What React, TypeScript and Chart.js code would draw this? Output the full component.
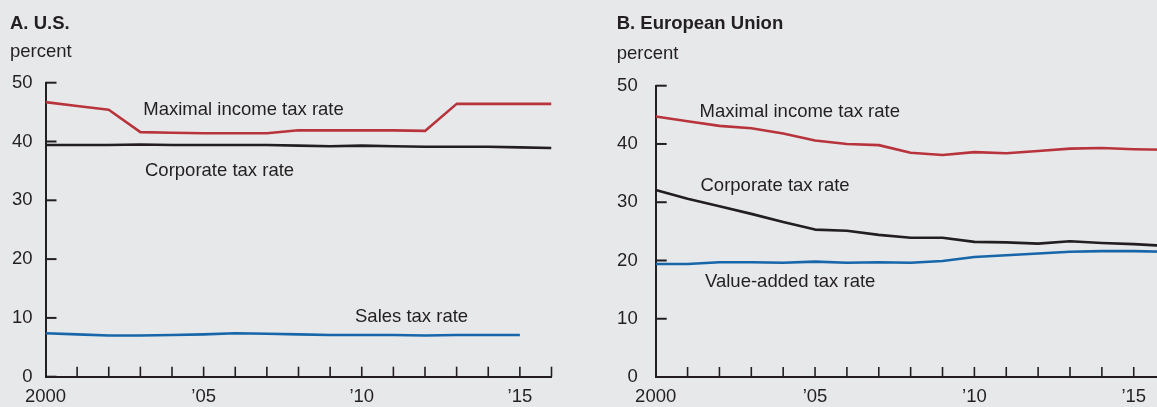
import React, { useEffect, useRef } from "react";
import { Chart, registerables } from "chart.js";

Chart.register(...registerables);

// ---- data ----
const years = [2000, 2001, 2002, 2003, 2004, 2005, 2006, 2007, 2008, 2009, 2010, 2011, 2012, 2013, 2014, 2015, 2016];

const usIncome = [46.7, 46.05, 45.4, 41.6, 41.5, 41.4, 41.4, 41.4, 41.9, 41.9, 41.9, 41.9, 41.8, 46.4, 46.4, 46.4, 46.4];
const usCorporate = [39.4, 39.4, 39.4, 39.5, 39.4, 39.4, 39.4, 39.4, 39.3, 39.2, 39.3, 39.2, 39.1, 39.1, 39.1, 39.0, 38.9];
const usSales = [7.4, 7.2, 7.0, 7.0, 7.1, 7.2, 7.4, 7.3, 7.2, 7.1, 7.1, 7.1, 7.0, 7.1, 7.1, 7.1, null];

const euIncome = [44.7, 43.9, 43.1, 42.7, 41.8, 40.6, 40.0, 39.8, 38.5, 38.1, 38.6, 38.4, 38.8, 39.2, 39.3, 39.1, 39.0];
const euCorporate = [32.1, 30.6, 29.3, 28.0, 26.6, 25.3, 25.1, 24.4, 23.9, 23.9, 23.2, 23.1, 22.9, 23.3, 23.0, 22.8, 22.5];
const euVat = [19.4, 19.4, 19.7, 19.7, 19.6, 19.8, 19.6, 19.7, 19.6, 19.9, 20.6, 20.9, 21.2, 21.5, 21.6, 21.6, 21.5];

const xLabelYears = [2000, 2005, 2010, 2015];
const yTickValues = [0, 10, 20, 30, 40, 50];

const RED = "#b8343c";
const BLACK = "#231f20";
const BLUE = "#1766a9";
const BG = "#e7e8ea";
const TEXT = "#231f20";
const FONT = "'Liberation Sans', Arial, Helvetica, sans-serif";
const FS = 18.5;

type Label = { text: string; x: number; y: number };
type Panel = {
  left: number;
  width: number;
  areaLeft: number;
  areaTop: number;
  areaBottom: number;
  areaRight: number;
  labelPad: number;
  title: string;
  titleX: number;
  titleY: number;
  unitY: number;
  labels: Label[];
  series: { data: (number | null)[]; color: string }[];
};

const panels: Panel[] = [
  {
    left: 0,
    width: 590,
    areaLeft: 45.5,
    areaTop: 82.7,
    areaBottom: 376.7,
    areaRight: 551.5,
    labelPad: 13,
    title: "A. U.S.",
    titleX: 10,
    titleY: 29.3,
    unitY: 57.3,
    labels: [
      { text: "Maximal income tax rate", x: 143.3, y: 115 },
      { text: "Corporate tax rate", x: 145, y: 176 },
      { text: "Sales tax rate", x: 355, y: 322 },
    ],
    series: [
      { data: usIncome, color: RED },
      { data: usCorporate, color: BLACK },
      { data: usSales, color: BLUE },
    ],
  },
  {
    left: 600,
    width: 600,
    areaLeft: 55.7,
    areaTop: 85.7,
    areaBottom: 377,
    areaRight: 565.6,
    labelPad: 18,
    title: "B. European Union",
    titleX: 16.7,
    titleY: 29.3,
    unitY: 59.3,
    labels: [
      { text: "Maximal income tax rate", x: 99.5, y: 116.7 },
      { text: "Corporate tax rate", x: 100.5, y: 190.7 },
      { text: "Value-added tax rate", x: 105, y: 287 },
    ],
    series: [
      { data: euIncome, color: RED },
      { data: euCorporate, color: BLACK },
      { data: euVat, color: BLUE },
    ],
  },
];

function PanelChart({ panel }: { panel: Panel }) {
  const ref = useRef<HTMLCanvasElement | null>(null);

  useEffect(() => {
    const canvas = ref.current;
    if (!canvas) return;

    const decor = {
      id: "decor",
      beforeDatasetsDraw(chart: any) {
        const { ctx, chartArea, scales } = chart;
        const xs = scales.x;
        const ys = scales.y;
        ctx.save();
        ctx.strokeStyle = BLACK;
        // y tick marks (inside)
        ctx.lineWidth = 2;
        for (const v of yTickValues) {
          const py = ys.getPixelForValue(v);
          ctx.beginPath();
          ctx.moveTo(chartArea.left, py);
          ctx.lineTo(chartArea.left + 11, py);
          ctx.stroke();
        }
        // x tick marks (inside), one per year
        ctx.lineWidth = 1.6;
        for (const yr of years) {
          if (yr === years[0]) continue;
          const px = xs.getPixelForValue(yr);
          ctx.beginPath();
          ctx.moveTo(px, chartArea.bottom);
          ctx.lineTo(px, chartArea.bottom - 10);
          ctx.stroke();
        }
        ctx.restore();
      },
      afterDraw(chart: any) {
        const { ctx } = chart;
        ctx.save();
        ctx.fillStyle = TEXT;
        ctx.textAlign = "left";
        ctx.textBaseline = "alphabetic";
        ctx.font = `bold ${FS}px ${FONT}`;
        ctx.fillText(panel.title, panel.titleX, panel.titleY);
        ctx.font = `${FS}px ${FONT}`;
        ctx.fillText("percent", panel.titleX, panel.unitY);
        for (const l of panel.labels) ctx.fillText(l.text, l.x, l.y);
        ctx.restore();
      },
    };

    const chart = new Chart(canvas, {
      type: "line",
      data: {
        labels: years,
        datasets: panel.series.map((s) => ({
          data: years.map((yr, i) => ({ x: yr, y: s.data[i] as any })),
          borderColor: s.color,
          backgroundColor: s.color,
          borderWidth: 2.6,
          pointRadius: 0,
          tension: 0,
          fill: false,
          spanGaps: false,
          borderJoinStyle: "round" as const,
        })),
      },
      options: {
        animation: false,
        responsive: false,
        maintainAspectRatio: false,
        devicePixelRatio: 1,
        layout: {
          padding: { left: 0, top: panel.areaTop, right: panel.width - panel.areaRight, bottom: 0 },
        },
        plugins: {
          legend: { display: false },
          title: { display: false },
          tooltip: { enabled: false },
        },
        scales: {
          x: {
            type: "linear",
            min: years[0],
            max: years[years.length - 1],
            grid: { display: false, drawTicks: false },
            border: { display: true, color: BLACK, width: 2 },
            afterBuildTicks: (scale: any) => {
              scale.ticks = xLabelYears.map((v) => ({ value: v }));
            },
            afterFit: (scale: any) => {
              scale.height = 407 - panel.areaBottom;
            },
            ticks: {
              autoSkip: false,
              maxRotation: 0,
              padding: 9,
              color: TEXT,
              font: { family: FONT, size: FS },
              callback: (v: any) => {
                const n = Number(v);
                if (n === 2000) return "2000";
                return "\u2019" + String(n).slice(2);
              },
            },
          },
          y: {
            type: "linear",
            min: 0,
            max: 50,
            grid: { display: false, drawTicks: false },
            border: { display: true, color: BLACK, width: 2 },
            afterFit: (scale: any) => {
              scale.width = panel.areaLeft;
            },
            ticks: {
              stepSize: 10,
              padding: panel.labelPad,
              color: TEXT,
              font: { family: FONT, size: FS },
            },
          },
        },
      },
      plugins: [decor],
    } as any);

    return () => chart.destroy();
  }, [panel]);

  return (
    <canvas
      ref={ref}
      width={panel.width}
      height={407}
      style={{ position: "absolute", left: panel.left, top: 0, width: panel.width, height: 407 }}
    />
  );
}

export default function App() {
  return (
    <div
      style={{
        position: "absolute",
        left: 0,
        top: 0,
        width: 1157,
        height: 407,
        overflow: "hidden",
        background: BG,
      }}
    >
      {panels.map((p, i) => (
        <PanelChart key={i} panel={p} />
      ))}
    </div>
  );
}
